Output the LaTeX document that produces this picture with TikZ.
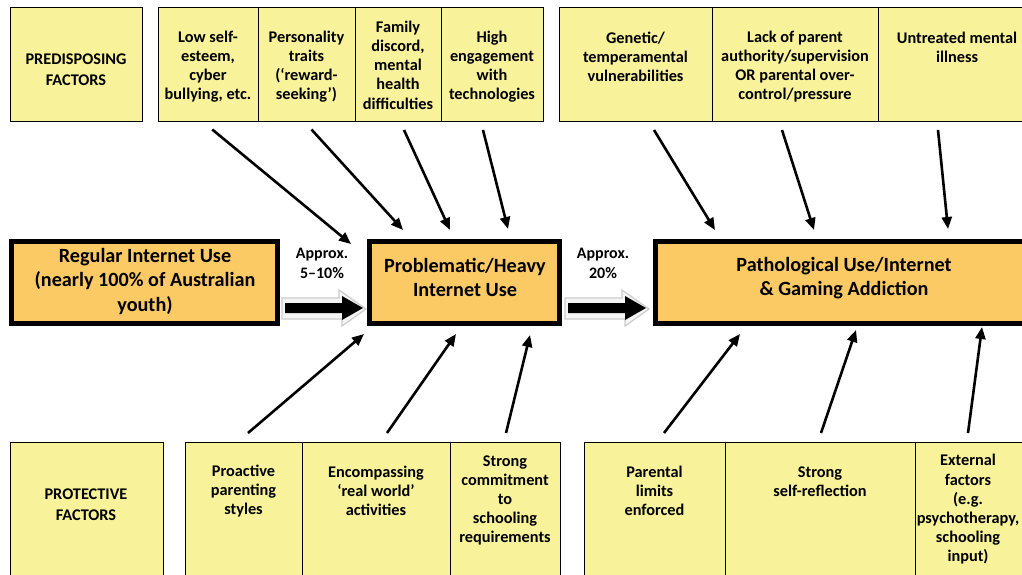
\documentclass[tikz,border=0pt]{standalone}
\usepackage{fontspec}
\setmainfont{Carlito}
\usetikzlibrary{arrows.meta,calc}
\definecolor{ylw}{RGB}{248,242,155}
\definecolor{org}{RGB}{251,202,100}
\begin{document}
\begin{tikzpicture}[x=1pt,y=-1pt,
  cell/.style={draw=black,line width=1pt,fill=ylw,anchor=north west,inner sep=0pt,outer sep=0pt,minimum height=#1},
  txt/.style={align=center,font=\fontsize{16.3}{19.2}\selectfont\bfseries,inner sep=0pt},
  bigtxt/.style={align=center,font=\fontsize{20.2}{24.5}\selectfont\bfseries,inner sep=0pt},
  bigbox/.style={draw=black,line width=5pt,fill=org,anchor=north west,inner sep=0pt,outer sep=0pt,minimum height=82pt},
  apx/.style={align=center,font=\fontsize{16}{20}\selectfont\bfseries,inner sep=0pt},
  fa/.style={line width=2.6pt,-{Triangle[length=12pt,width=10pt]}},
  blockshadow/.style={fill=gray!8,draw=gray!40,line width=1.2pt},
]
\useasboundingbox (0,0) rectangle (1022,575);
\clip (0,0) rectangle (1022,575);
\fill[white] (0,0) rectangle (1022,575);

% ---------- top cells ----------
\node[cell=114pt,minimum width=131.5pt] (p0) at (10.5,7.5) {};
\node[cell=114pt,minimum width=99.5pt] (t1) at (158.5,7.5) {};
\node[cell=114pt,minimum width=97pt]   (t2) at (258,7.5) {};
\node[cell=114pt,minimum width=86pt]   (t3) at (355,7.5) {};
\node[cell=114pt,minimum width=102pt]  (t4) at (441,7.5) {};
\node[cell=114pt,minimum width=153pt]  (t5) at (559,7.5) {};
\node[cell=114pt,minimum width=166pt]  (t6) at (712,7.5) {};
\node[cell=114pt,minimum width=162pt]  (t7) at (878,7.5) {};

\node[txt,font=\fontsize{16.3}{21}\selectfont\bfseries] (p0x) at (76,69.5) {PREDISPOSING\\FACTORS};
\node[txt] (t1x) at (208,66.5) {Low self-\\esteem,\\cyber\\bullying, etc.};
\node[txt] (t2x) at (306.5,66.5) {Personality\\traits\\(‘reward-\\seeking’)};
\node[txt] (t3x) at (398,65) {Family\\discord,\\mental\\health\\difficulties};
\node[txt] (t4x) at (492,66.5) {High\\engagement\\with\\technologies};
\node[txt] (t5x) at (635.5,57) {Genetic/\\temperamental\\vulnerabilities};
\node[txt] (t6x) at (795,66.5) {Lack of parent\\authority/supervision\\OR parental over-\\control/pressure};
\node[txt] (t7x) at (957,47.5) {Untreated mental\\illness};

% ---------- bottom cells ----------
\node[cell=150pt,minimum width=152.5pt] (p1) at (10.5,442.5) {};
\node[cell=150pt,minimum width=117pt]   (b1) at (185,442.5) {};
\node[cell=150pt,minimum width=148pt]   (b2) at (302,442.5) {};
\node[cell=150pt,minimum width=110pt]   (b3) at (450,442.5) {};
\node[cell=150pt,minimum width=141pt]   (b4) at (584,442.5) {};
\node[cell=150pt,minimum width=190pt]   (b5) at (725,442.5) {};
\node[cell=150pt,minimum width=125pt]   (b6) at (915,442.5) {};

\node[txt,font=\fontsize{16.3}{21}\selectfont\bfseries] (p1x) at (86,505) {PROTECTIVE\\FACTORS};
\node[txt] (b1x) at (243.5,491) {Proactive\\parenting\\styles};
\node[txt] (b2x) at (376,491) {Encompassing\\‘real world’\\activities};
\node[txt] (b3x) at (505,500.5) {Strong\\commitment\\to\\schooling\\requirements};
\node[txt] (b4x) at (654.5,491) {Parental\\limits\\enforced};
\node[txt] (b5x) at (820,481.5) {Strong\\self-reflection};
\node[txt] (b6x) at (968,509.5) {External\\factors\\(e.g.\\psychotherapy,\\schooling\\input)};

% ---------- middle boxes ----------
\node[bigbox,minimum width=266pt] (reg) at (11.5,241.5) {};
\node[bigbox,minimum width=190pt] (prob) at (369.5,241.5) {};
\node[bigbox,minimum width=390pt] (path) at (655.5,241.5) {};

\node[bigtxt] (regx) at (145,281) {Regular Internet Use\\(nearly 100\% of Australian\\youth)};
\node[bigtxt] (probx) at (465,277.5) {Problematic/Heavy\\Internet Use};
\node[bigtxt] (pathx) at (844,278) {Pathological Use/Internet\\\& Gaming Addiction};

\node[apx] (ap1) at (322,263) {Approx.\\5–10\%};
\node[apx] (ap2) at (603,263) {Approx.\\20\%};

% ---------- block arrows ----------
\coordinate (ba1) at (285,308);
\coordinate (ba2) at (568,308);
\foreach \c in {ba1,ba2}{
  \begin{scope}[shift={(\c)}]
    \path[blockshadow] (-3,-10) -- (54,-10) -- (54,-18) -- (81,1) -- (57,18) -- (57,11) -- (-3,11) -- cycle;
    \fill[black] (0,-5) -- (57,-5) -- (57,-12) -- (78,0) -- (57,12) -- (57,5) -- (0,5) -- cycle;
  \end{scope}
}

% ---------- arrow end points ----------
\coordinate (e1) at (351,244);
\coordinate (e2) at (403,230);
\coordinate (e3) at (450,230);
\coordinate (e4) at (508,229);
\coordinate (e5) at (715,230);
\coordinate (e6) at (814,230);
\coordinate (e7) at (948,229);
\coordinate (e8) at (364,334);
\coordinate (e9) at (456,334);
\coordinate (e10) at (530,335);
\coordinate (e11) at (740,334);
\coordinate (e12) at (856,330);
\coordinate (e13) at (982,327);

% ---------- factor arrows ----------
\draw[fa] ($(t1.south)+(4,8)$) -- (e1);
\draw[fa] ($(t2.south)+(5,8)$) -- (e2);
\draw[fa] ($(t3.south)+(6,8.5)$) -- (e3);
\draw[fa] ($(t4.south)+(-9,8.5)$) -- (e4);
\draw[fa] ($(t5.south)+(18.5,8.5)$) -- (e5);
\draw[fa] ($(t6.south)+(-13,8.5)$) -- (e6);
\draw[fa] ($(t7.south)+(-21,8.5)$) -- (e7);

\draw[fa] ($(b1.north)+(4.5,-9.5)$) -- (e8);
\draw[fa] ($(b2.north)+(11,-9.5)$) -- (e9);
\draw[fa] ($(b3.north)+(1,-9.5)$) -- (e10);
\draw[fa] ($(b4.north)+(9.5,-9.5)$) -- (e11);
\draw[fa] ($(b5.north)+(1,-9.5)$) -- (e12);
\draw[fa] ($(b6.north)+(-9.5,-9.5)$) -- (e13);
\end{tikzpicture}
\end{document}
